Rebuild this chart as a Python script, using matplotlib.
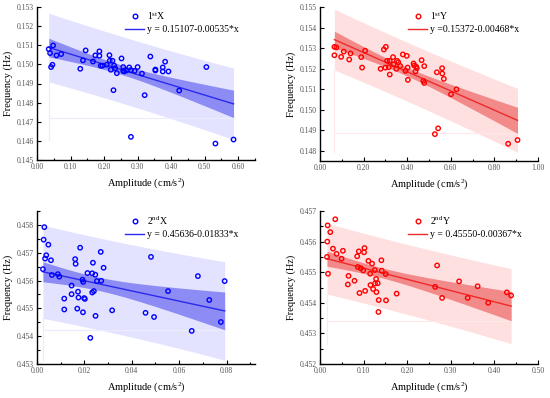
import numpy as np
import matplotlib
matplotlib.use("Agg")
import matplotlib.pyplot as plt
from matplotlib.lines import Line2D
from matplotlib.ticker import MultipleLocator, FormatStrFormatter

plt.rcParams['font.family'] = ['Liberation Serif', 'DejaVu Serif']
plt.rcParams['mathtext.fontset'] = 'custom'
plt.rcParams['mathtext.rm'] = 'Liberation Serif'
plt.rcParams['mathtext.it'] = 'Liberation Serif:italic'

# ---- data: 1st X ----
x1 = [0.035, 0.039, 0.048, 0.042, 0.046, 0.058, 0.072, 0.129, 0.145, 0.137, 0.167, 0.174,
      0.186, 0.186, 0.190, 0.195, 0.208, 0.216, 0.217, 0.225, 0.220, 0.230, 0.233, 0.238,
      0.228, 0.252, 0.257, 0.257, 0.260, 0.266, 0.275, 0.280, 0.291, 0.300, 0.313, 0.321,
      0.280, 0.338, 0.353, 0.353, 0.375, 0.375, 0.382, 0.392, 0.424, 0.505, 0.532, 0.586]
y1 = [0.15080, 0.15059, 0.15099, 0.14986, 0.14998, 0.15047, 0.15054, 0.14977, 0.15073, 0.15021,
      0.15015, 0.15047, 0.15068, 0.15045, 0.14993, 0.14993, 0.14998, 0.15048, 0.15019, 0.15019,
      0.14972, 0.14994, 0.14980, 0.14954, 0.14865, 0.15031, 0.14986, 0.14966, 0.14963, 0.14968,
      0.14984, 0.14970, 0.14966, 0.14986, 0.14952, 0.14839, 0.14621, 0.15041, 0.14968, 0.14973,
      0.14984, 0.14963, 0.15014, 0.14963, 0.14863, 0.14986, 0.14586, 0.14607]
fit1 = (0.15107, -0.00535)

# ---- data: 1st Y ----
x2 = [0.066, 0.066, 0.075, 0.097, 0.109, 0.134, 0.140, 0.189, 0.193, 0.207, 0.278, 0.293,
      0.302, 0.308, 0.320, 0.300, 0.315, 0.320, 0.335, 0.338, 0.350, 0.353, 0.359, 0.368,
      0.380, 0.392, 0.398, 0.402, 0.403, 0.429, 0.432, 0.441, 0.444, 0.438, 0.466, 0.478,
      0.474, 0.478, 0.536, 0.560, 0.561, 0.568, 0.527, 0.542, 0.601, 0.626, 0.863, 0.906]
y2 = [0.15265, 0.15306, 0.15303, 0.15257, 0.15283, 0.15244, 0.15274, 0.15256, 0.15205, 0.15287,
      0.15199, 0.15293, 0.15306, 0.15238, 0.15238, 0.15205, 0.15207, 0.15171, 0.15256, 0.15221,
      0.15199, 0.15238, 0.15231, 0.15213, 0.15269, 0.15189, 0.15262, 0.15205, 0.15145, 0.15225,
      0.15215, 0.15210, 0.15202, 0.15186, 0.15241, 0.15212, 0.15140, 0.15130, 0.15182, 0.15202,
      0.15176, 0.15150, 0.14881, 0.14909, 0.15075, 0.15099, 0.14834, 0.14852]
fit2 = (0.15372, -0.00468)

# ---- data: 2nd X ----
x3 = [0.0031, 0.0028, 0.0048, 0.0039, 0.0034, 0.0059, 0.0025, 0.0063, 0.0088, 0.0094,
      0.0182, 0.0161, 0.0163, 0.0269, 0.0236, 0.0281, 0.0213, 0.0233, 0.0246, 0.0192,
      0.0195, 0.0253, 0.0271, 0.0146, 0.0173, 0.0146, 0.0175, 0.0199, 0.0202, 0.0240,
      0.0233, 0.0115, 0.0115, 0.0170, 0.0194, 0.0247, 0.0317, 0.0225, 0.0481, 0.0679,
      0.0792, 0.0553, 0.0727, 0.0458, 0.0494, 0.0776, 0.0653]
y3 = [0.45792, 0.45747, 0.45729, 0.45691, 0.45679, 0.45673, 0.45641, 0.45620, 0.45623, 0.45614,
      0.45718, 0.45677, 0.45660, 0.45703, 0.45664, 0.45646, 0.45627, 0.45626, 0.45621, 0.45603,
      0.45595, 0.45598, 0.45599, 0.45582, 0.45560, 0.45551, 0.45539, 0.45537, 0.45534, 0.45562,
      0.45557, 0.45535, 0.45496, 0.45499, 0.45486, 0.45473, 0.45493, 0.45394, 0.45685, 0.45616,
      0.45598, 0.45562, 0.45530, 0.45484, 0.45469, 0.45451, 0.45419]
fit3 = (0.45636, -0.01833)

# ---- data: 2nd Y ----
x4 = [0.035, 0.0175, 0.0236, 0.0167, 0.0297, 0.0525, 0.0381, 0.016, 0.0495, 0.0183,
      0.0654, 0.0639, 0.0791, 0.0906, 0.0852, 0.089, 0.102, 0.101, 0.0868, 0.0936,
      0.099, 0.1035, 0.111, 0.1195, 0.115, 0.1256, 0.1286, 0.1408, 0.1416, 0.1157,
      0.1218, 0.1263, 0.1324, 0.1294, 0.1507, 0.1347, 0.1514, 0.134, 0.1758, 0.2686,
      0.2641, 0.280, 0.319, 0.3387, 0.3615, 0.3858, 0.4285, 0.4384]
y4 = [0.45673, 0.45653, 0.45631, 0.45600, 0.45577, 0.45570, 0.45560, 0.45550, 0.45544, 0.45495,
      0.45488, 0.45460, 0.45472, 0.45432, 0.45552, 0.45568, 0.45579, 0.45565, 0.45517, 0.45513,
      0.45506, 0.45439, 0.45537, 0.45528, 0.45495, 0.45507, 0.45478, 0.45539, 0.45505, 0.45458,
      0.45445, 0.45463, 0.45464, 0.45435, 0.45494, 0.45409, 0.45408, 0.45370, 0.45430, 0.45522,
      0.45452, 0.45416, 0.45470, 0.45416, 0.45454, 0.45400, 0.45434, 0.45424]
fit4 = (0.45550, -0.00367)

labels = ["1$^{\\mathrm{st}}$X", "1$^{\\mathrm{st}}$Y", "2$^{\\mathrm{nd}}$X", "2$^{\\mathrm{nd}}$Y"]
eqs = ["y = 0.15107-0.00535*x", "y =0.15372-0.00468*x", "y = 0.45636-0.01833*x", "y = 0.45550-0.00367*x"]

blue = dict(pt='#0000ff', line='#2a2aee', light='#e3e3ff', dark='#8c8cf4', edge='#ececff')
red = dict(pt='#ff0000', line='#ee2a2a', light='#ffe0e0', dark='#f28a8a', edge='#ffe8e8')

panels = [
    (x1, y1, fit1, labels[0], eqs[0], blue, [37, 7, 255, 160], (0, 0.65), 0.1, 0.05, '%.2f', (0.145, 0.153), 0.001, None),
    (x2, y2, fit2, labels[1], eqs[1], red, [320, 7, 538, 161], (0, 1.0), 0.2, 0.1, '%.2f', (0.1475, 0.155), 0.001, None),
    (x3, y3, fit3, labels[2], eqs[2], blue, [37, 211, 255, 364], (0, 0.092), 0.02, 0.01, '%.2f', (0.453, 0.4585), 0.001, 0.0005),
    (x4, y4, fit4, labels[3], eqs[3], red, [320, 211, 538, 364], (0, 0.5), 0.1, 0.05, '%.2f', (0.452, 0.457), 0.001, 0.0005),
]

W, H = 550, 398
fig = plt.figure(figsize=(W / 100, H / 100), dpi=100)
tval = 2.013

for (xs, ys, fit, lab, eq, col, box, xlim, xmaj, xmin_, xfmt, ylim, ymaj, ymin_) in panels:
    l, t, r, b = box
    ax = fig.add_axes([l / W, 1 - b / H, (r - l) / W, (b - t) / H])
    x = np.asarray(xs)
    y = np.asarray(ys)
    a0, a1 = fit
    n = len(x)
    res = y - (a0 + a1 * x)
    s = np.sqrt(np.sum(res ** 2) / (n - 2))
    xbar = x.mean()
    sxx = np.sum((x - xbar) ** 2)
    xx = np.linspace(x.min(), x.max(), 200)
    yy = a0 + a1 * xx
    se = s * np.sqrt(1.0 / n + (xx - xbar) ** 2 / sxx)
    ci = tval * se
    pi = tval * np.sqrt(s ** 2 + se ** 2)
    ax.fill_between(xx, yy - pi, yy + pi, color=col['light'], lw=0, zorder=1)
    # faint closing outline of the band polygon
    ax.plot([xx[0], xx[-1]], [yy[-1] - ci[-1]] * 2, color=col['edge'], lw=0.8, zorder=1)
    ax.plot([xx[0], xx[0]], [yy[-1] - pi[-1], yy[0] - pi[0]], color=col['edge'], lw=0.8, zorder=1)
    ax.fill_between(xx, yy - ci, yy + ci, color=col['dark'], lw=0, zorder=2)
    ax.plot(xx, yy, color=col['line'], lw=1.0, zorder=3)
    ax.scatter(x, y, s=10, facecolors='none', edgecolors=col['pt'], linewidths=1.0, zorder=4)

    ax.set_xlim(*xlim)
    ax.set_ylim(*ylim)
    ax.xaxis.set_major_locator(MultipleLocator(xmaj))
    ax.xaxis.set_minor_locator(MultipleLocator(xmin_))
    ax.xaxis.set_major_formatter(FormatStrFormatter(xfmt))
    ax.yaxis.set_major_locator(MultipleLocator(ymaj))
    if ymin_:
        ax.yaxis.set_minor_locator(MultipleLocator(ymin_))
    ax.yaxis.set_major_formatter(FormatStrFormatter('%.3f'))
    for sp in ['top', 'right']:
        ax.spines[sp].set_visible(False)
    for sp in ['left', 'bottom']:
        ax.spines[sp].set_linewidth(1.0)
    ax.tick_params(which='both', direction='in', labelsize=5.5, width=0.8, colors='black', pad=2)
    ax.tick_params(which='major', length=3)
    ax.tick_params(which='minor', length=1.8)
    for tl in ax.get_xticklabels() + ax.get_yticklabels():
        tl.set_color('#555555')
    ax.set_xlabel("Amplitude (cm/s$^2$)", fontsize=7.5, labelpad=3.5)
    ax.set_ylabel("Frequency (Hz)", fontsize=7.5, labelpad=3)

    hs = [Line2D([], [], ls='none', marker='o', markersize=3.3, markerfacecolor='none',
                 markeredgecolor=col['pt'], markeredgewidth=1.0),
          Line2D([], [], color=col['line'], lw=1.0)]
    ax.legend(hs, [lab, eq], loc='upper left', bbox_to_anchor=(0.385, 1.005), frameon=False,
              fontsize=7, handlelength=2.0, handletextpad=0.3, labelspacing=0.35, borderaxespad=0)

fig.savefig('out.png', dpi=100)
